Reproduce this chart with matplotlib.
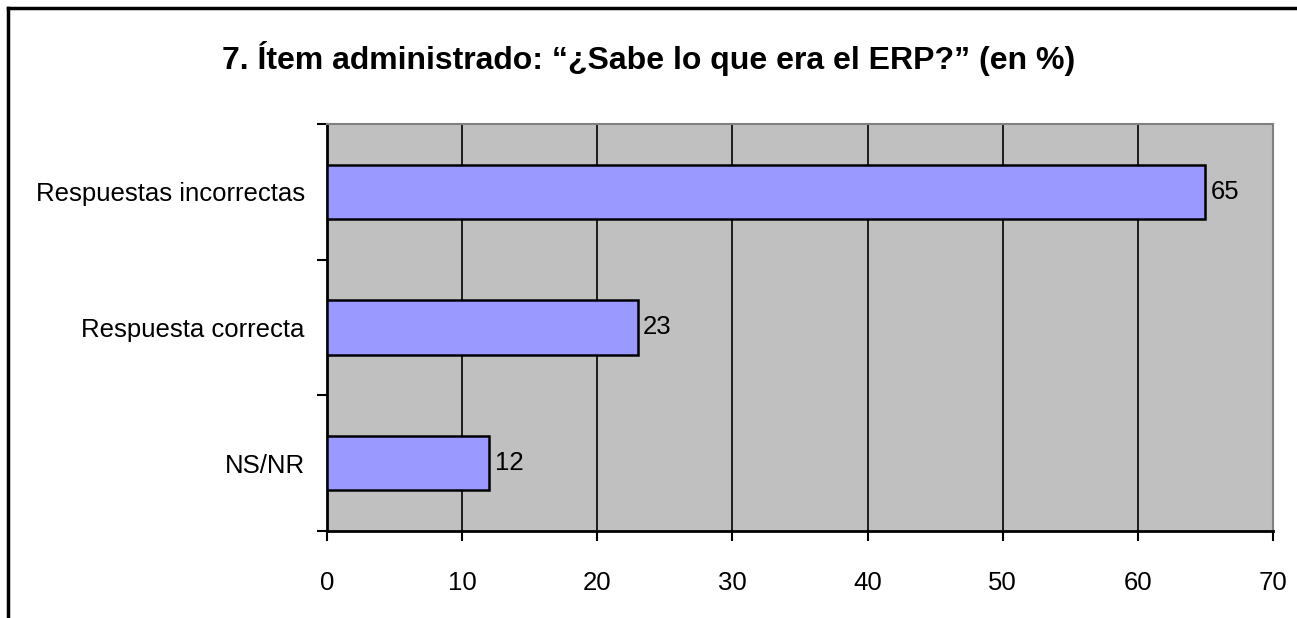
import matplotlib.pyplot as plt
from matplotlib.lines import Line2D

categorias = ['NS/NR', 'Respuesta correcta', 'Respuestas incorrectas']
valores = [12, 23, 65]
ticks_x = [0, 10, 20, 30, 40, 50, 60, 70]

fig = plt.figure(figsize=(12.97, 6.18), dpi=100)
W, H = 1297, 618
fuente = 'Liberation Sans'

# Marco exterior (solo borde izquierdo y superior visibles)
fig.add_artist(Line2D([8 / W, 8 / W], [0, 1 - 8 / H], color='black', lw=2.5, transform=fig.transFigure))
fig.add_artist(Line2D([8 / W, 1], [1 - 8 / H, 1 - 8 / H], color='black', lw=2.5, transform=fig.transFigure))

ax = fig.add_axes([327 / W, 1 - 531 / H, (1273 - 327) / W, (531 - 124) / H])
ax.set_facecolor('#C0C0C0')

pos = range(len(categorias))
ax.barh(pos, valores, height=0.4, color='#9999FF', edgecolor='black', linewidth=1.8, zorder=3)
for p, v in zip(pos, valores):
    ax.text(v + 0.4, p, str(v), va='center', ha='left', fontsize=18.5, family=fuente)

ax.set_xlim(0, 70)
ax.set_ylim(-0.5, 2.5)
ax.set_xticks(ticks_x)
ax.set_xticklabels([str(t) for t in ticks_x], fontsize=18.5, family=fuente)
ax.set_yticks(list(pos))
ax.set_yticklabels(categorias, fontsize=18.5, family=fuente)
ax.set_yticks([-0.5, 0.5, 1.5, 2.5], minor=True)
ax.tick_params(axis='y', which='major', length=0, pad=16)
ax.tick_params(axis='y', which='minor', length=7, width=1.5, direction='out')
ax.tick_params(axis='x', length=7, width=1.5, direction='out', pad=22)

ax.grid(axis='x', color='black', lw=1.2, zorder=1)
ax.set_axisbelow(True)
for s in ['left', 'bottom']:
    ax.spines[s].set_color('black')
    ax.spines[s].set_linewidth(2)
for s in ['top', 'right']:
    ax.spines[s].set_color('#808080')
    ax.spines[s].set_linewidth(1.5)

fig.text(0.5, 1 - 58 / H, '7. Ítem administrado: “¿Sabe lo que era el ERP?” (en %)',
         ha='center', va='center', fontsize=23, fontweight='bold', family=fuente)

fig.savefig('out.png', dpi=100)
